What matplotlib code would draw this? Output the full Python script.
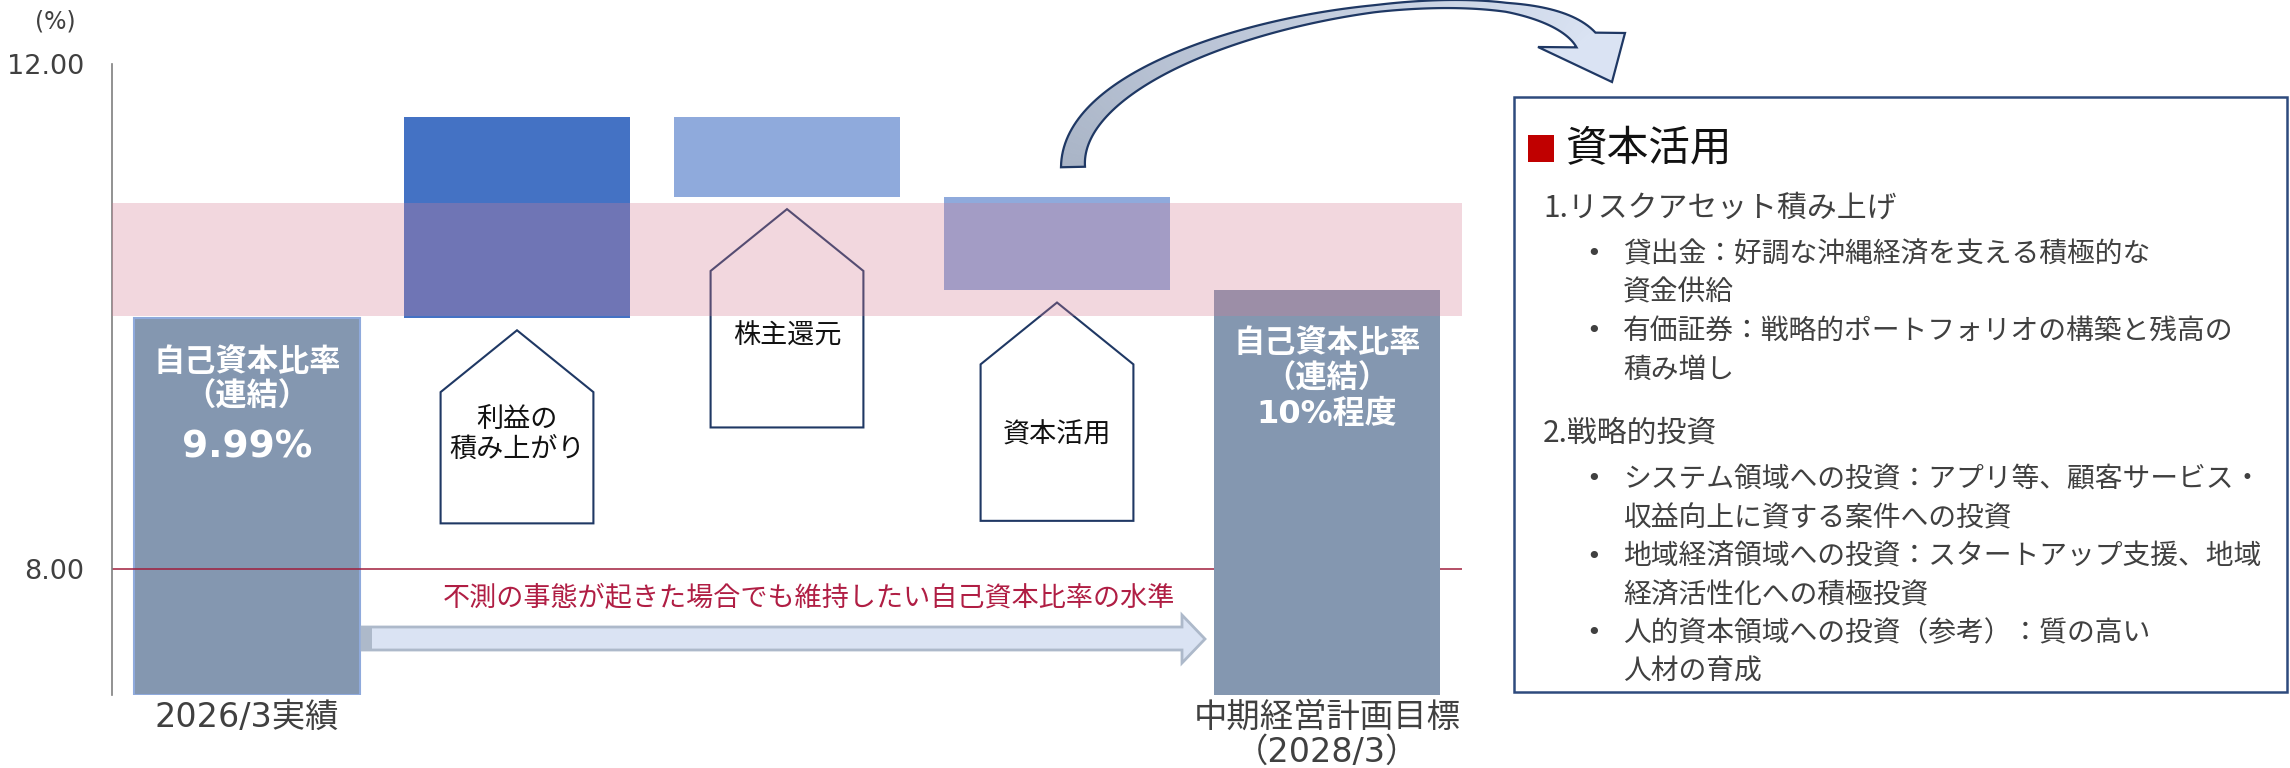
import numpy as np
import matplotlib
matplotlib.use("Agg")
import matplotlib.pyplot as plt
from matplotlib.patches import Polygon, Rectangle
from matplotlib.colors import to_rgb

plt.rcParams['font.family'] = ['DejaVu Sans', 'Noto Sans CJK JP']

# ---- data ----
start_label = '2026/3実績'
target_label = '中期経営計画目標\n（2028/3）'
start_ratio = 9.99
step_labels = ['利益の\n積み上がり', '株主還元', '資本活用']
step_changes = [1.59, -0.63, -0.74]
step_colors = ['#4472C4', '#8FAADC', '#8FAADC']
band_range = [10.0, 10.9]
floor_ratio = 8.0
floor_note = '不測の事態が起きた場合でも維持したい自己資本比率の水準'
y_ticks = [8.0, 12.0]
bar_title = ['自己資本比率', '（連結）']
target_text = '10%程度'

box_title = '資本活用'
box_sections = [
    ('1.リスクアセット積み上げ', [
        ['貸出金：好調な沖縄経済を支える積極的な', '資金供給'],
        ['有価証券：戦略的ポートフォリオの構築と残高の', '積み増し'],
    ]),
    ('2.戦略的投資', [
        ['システム領域への投資：アプリ等、顧客サービス・', '収益向上に資する案件への投資'],
        ['地域経済領域への投資：スタートアップ支援、地域', '経済活性化への積極投資'],
        ['人的資本領域への投資（参考）：質の高い', '人材の育成'],
    ]),
]

# callout (house shape) layout under each step bar
callout_bottoms = [8.36, 9.12, 8.38]
callout_text_y = [9.06, 9.84, 9.06]

W, H = 2290, 768
fig = plt.figure(figsize=(W / 100, H / 100), dpi=100)
ax = fig.add_axes([112 / W, 1 - 695 / H, (1462 - 112) / W, (695 - 64) / H])
ax.set_xlim(-0.5, 4.5)
ax.set_ylim(7, 12)
ymin = 7

bar_w = 0.837
levels = [start_ratio]
for c in step_changes:
    levels.append(levels[-1] + c)
target_ratio = levels[-1]

# start / target bars
ax.bar(0, start_ratio - ymin, bottom=ymin, width=bar_w, color='#8497B0',
       edgecolor='#8FAADC', linewidth=1.5, zorder=2)
ax.axhline(floor_ratio, color='#A01E3C', lw=1.1, zorder=2.5)
ax.bar(4, target_ratio - ymin, bottom=ymin, width=bar_w, color='#8497B0',
       zorder=3)

# step bars
for i, c in enumerate(step_changes):
    lo = min(levels[i], levels[i + 1])
    ax.bar(i + 1, abs(c), bottom=lo, width=bar_w, color=step_colors[i], zorder=3)

    # house-shaped callout
    apex = lo - 0.1
    shoulder = apex - 0.49
    hw = 0.283
    xc = i + 1
    pts = [(xc, apex), (xc + hw, shoulder), (xc + hw, callout_bottoms[i]),
           (xc - hw, callout_bottoms[i]), (xc - hw, shoulder)]
    ax.add_patch(Polygon(pts, closed=True, fc='white', ec='#1F3864',
                         lw=1.5, zorder=3))
    ax.text(xc, callout_text_y[i], step_labels[i], ha='center', va='center',
            fontsize=19.5, color='#111111', linespacing=1.1, zorder=5,
            family=['Noto Sans CJK JP'])

# target band
ax.axhspan(band_range[0], band_range[1], color='#D47C93', alpha=0.3, lw=0, zorder=4)

# labels inside start / target bars
for xc, ys, last, fs in [(0, [9.64, 9.36, 8.96], f'{start_ratio:.2f}%', 27),
                         (4, [9.79, 9.51, 9.22], target_text, 23)]:
    for y, s in zip(ys[:2], bar_title):
        ax.text(xc, y, s, ha='center', va='center', fontsize=22.5, color='white',
                fontweight='bold', zorder=5, family=['Noto Sans CJK JP'])
    ax.text(xc, ys[2], last, ha='center', va='center', fontsize=fs, color='white',
            fontweight='bold', zorder=5)

ax.text(2.08, 7.77, floor_note, ha='center', va='center', fontsize=19.5,
        color='#B01E44', zorder=5, family=['Noto Sans CJK JP'])

for s in ['top', 'right', 'bottom']:
    ax.spines[s].set_visible(False)
ax.spines['left'].set_color('#7F7F7F')
ax.spines['left'].set_linewidth(1.2)
ax.set_yticks(y_ticks, labels=[f'{v:.2f}' for v in y_ticks])
ax.tick_params(axis='y', length=0, pad=20, labelsize=19.5, labelcolor='#404040')
ax.set_xticks([0, 4], labels=[start_label, target_label])
ax.tick_params(axis='x', length=0, pad=4, labelsize=24, labelcolor='#404040')
for t in ax.get_xticklabels():
    t.set_linespacing(1.1)

# ---- overlay in pixel coordinates ----
ov = fig.add_axes([0, 0, 1, 1], zorder=5)
ov.set_xlim(0, W)
ov.set_ylim(H, 0)
ov.axis('off')
ov.patch.set_alpha(0)

ov.text(55, 22, '(%)', ha='center', va='center', fontsize=17, color='#404040')

# horizontal block arrow
arrow_pts = [(362, 627), (1182, 627), (1182, 615), (1205, 639), (1182, 663),
             (1182, 650), (362, 650)]
ov.add_patch(Polygon(arrow_pts, closed=True, fc='#DAE3F3', ec='#ADB9CA', lw=2))
ov.add_patch(Rectangle((362, 627), 10, 23, fc='#ADB9CA', ec='none'))

# curved block arrow
P = np.array([[1073, 167], [1070, 30], [1520, -45], [1586, 40]], float)
ts = np.linspace(0, 1, 120)
B = ((1 - ts) ** 3)[:, None] * P[0] + (3 * (1 - ts) ** 2 * ts)[:, None] * P[1] \
    + (3 * (1 - ts) * ts ** 2)[:, None] * P[2] + (ts ** 3)[:, None] * P[3]
D = (3 * (1 - ts) ** 2)[:, None] * (P[1] - P[0]) + (6 * (1 - ts) * ts)[:, None] * (P[2] - P[1]) \
    + (3 * ts ** 2)[:, None] * (P[3] - P[2])
D /= np.linalg.norm(D, axis=1)[:, None]
N = np.column_stack([-D[:, 1], D[:, 0]])
wid = np.interp(ts, [0, 0.3, 0.6, 0.8, 1], [24, 15, 7, 9, 24])
L = B + N * wid[:, None] / 2
R = B - N * wid[:, None] / 2
c0, c1 = np.array(to_rgb('#A9B4C6')), np.array(to_rgb('#DAE3F3'))
for i in range(len(ts) - 1):
    col = c0 + (c1 - c0) * ts[i]
    ov.add_patch(Polygon([L[i], L[i + 1], R[i + 1], R[i]], closed=True,
                         fc=col, ec=col, lw=0.6))
head = [(1538, 47), (1612, 82), (1625, 33)]
ov.add_patch(Polygon([L[-1]] + head + [R[-1]], closed=True, fc='#DAE3F3', ec='none'))
outline = np.vstack([L, head, R[::-1]])
ov.add_patch(Polygon(outline, closed=True, fc='none', ec='#1F3864', lw=1.6))

# right text box
ov.add_patch(Rectangle((1514, 97), 773, 595, fc='white', ec='#2E4A7D', lw=1.8))
ov.add_patch(Rectangle((1528, 135), 26, 27, fc='#C00000', ec='none'))
ov.text(1565, 150, box_title, ha='left', va='center', fontsize=30, color='#111111',
        family=['Noto Sans CJK JP'])

step = 38.5
y = 208
for si, (head_txt, bullets) in enumerate(box_sections):
    if si > 0:
        y += 64
    ov.text(1543, y, head_txt, ha='left', va='center', fontsize=21.5, color='#404040',
            family=['Noto Sans CJK JP'])
    y += 46
    for lines in bullets:
        ov.text(1594, y, '•', ha='center', va='center', fontsize=18, color='#404040')
        for k, line in enumerate(lines):
            ov.text(1623, y, line, ha='left', va='center', fontsize=20, color='#404040',
                    family=['Noto Sans CJK JP'])
            y += step
    y -= step

fig.savefig('out.png', dpi=100)
